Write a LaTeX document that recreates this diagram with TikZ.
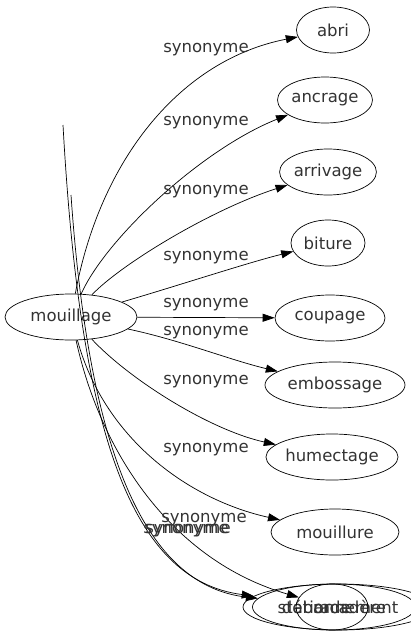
\documentclass[tikz,border=0pt]{standalone}
\usepackage{fontspec}
\setmainfont{DejaVu Sans}
\usetikzlibrary{shapes.geometric,arrows.meta}

\begin{document}
\begin{tikzpicture}[x=1pt,y=-1pt,
  word/.style={draw,ellipse,inner sep=0pt,minimum height=46pt,line width=0.7pt,
    font=\fontsize{16.5}{19}\selectfont,text=black!80},
  rel/.style={-{Triangle[length=12pt,width=8pt]},line width=0.7pt},
  syn/.style={inner sep=0pt,font=\fontsize{16.5}{19}\selectfont,text=black!80}]
\useasboundingbox (0,0) rectangle (410,635);
\node[word,minimum width=132pt] (mouillage) at (71,317) {mouillage};
\node[word,minimum width=73pt] (abri) at (333,30) {abri};
\node[word,minimum width=92pt] (ancrage) at (325,100) {ancrage};
\node[word,minimum width=90pt] (arrivage) at (328,172) {arrivage};
\node[word,minimum width=74pt] (biture) at (328,243) {biture};
\node[word,minimum width=110pt] (coupage) at (330,318) {coupage};
\node[word,minimum width=140pt] (embossage) at (335,385) {embossage};
\node[word,minimum width=132pt] (humectage) at (332,457) {humectage};
\node[word,minimum width=128pt] (mouillure) at (335,532) {mouillure};
\node[word,minimum width=190pt] (stationnement) at (338,607) {stationnement};
\node[word,minimum width=163pt] (debarcadere) at (334,607) {débarcadère};
\node[word,minimum width=72pt] (rade) at (332,607) {rade};
\coordinate (s1) at (63,125);
\coordinate (s2) at (71,195);
\draw[rel] (mouillage) .. controls (100,160) and (180,60) .. (abri);
\draw[rel] (mouillage) .. controls (105,240) and (200,150) .. (ancrage);
\draw[rel] (mouillage) .. controls (120,265) and (210,210) .. (arrivage);
\draw[rel] (mouillage) .. controls (180,285) and (250,262) .. (biture);
\draw[rel] (mouillage) -- (coupage);
\draw[rel] (mouillage) .. controls (180,340) and (230,360) .. (embossage);
\draw[rel] (mouillage) .. controls (130,380) and (210,430) .. (humectage);
\draw[rel] (mouillage) .. controls (105,440) and (190,500) .. (mouillure);
\draw[rel] (s1) .. controls (80,430) and (130,580) .. (stationnement);
\draw[rel] (s2) .. controls (88,440) and (140,585) .. (debarcadere);
\draw[rel] (mouillage) .. controls (100,450) and (170,560) .. (rade);
\node[syn] (l1) at (206,50) {synonyme};
\node[syn] (l2) at (206,123) {synonyme};
\node[syn] (l3) at (206,192) {synonyme};
\node[syn] (l4) at (206,258) {synonyme};
\node[syn] (l5) at (206,305) {synonyme};
\node[syn] (l6) at (206,333) {synonyme};
\node[syn] (l7) at (206,382) {synonyme};
\node[syn] (l8) at (206,450) {synonyme};
\node[syn] (l9) at (204,520) {synonyme};
\node[syn] (l10) at (186,531) {synonyme};
\node[syn] (l11) at (188,531) {synonyme};
\end{tikzpicture}
\end{document}
